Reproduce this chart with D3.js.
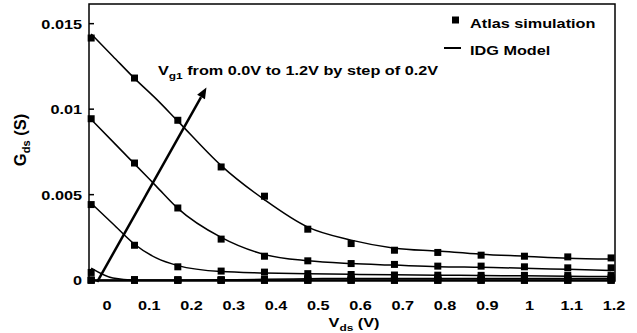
<!DOCTYPE html>
<html><head><meta charset="utf-8">
<script src="https://cdn.jsdelivr.net/npm/d3@7"></script>
<style>
html,body{margin:0;padding:0;background:#fff;}
svg{display:block;font-family:"Liberation Sans",Arial,sans-serif;font-weight:bold;}
</style></head>
<body>
<svg id="chart" width="637" height="333"></svg>
<script>
// ---- data ----
const xTickValues = [0, 0.1, 0.2, 0.3, 0.4, 0.5, 0.6, 0.7, 0.8, 0.9, 1.0, 1.1, 1.2];
const xTickLabels = ["0", "0.1", "0.2", "0.3", "0.4", "0.5", "0.6", "0.7", "0.8", "0.9", "1", "1.1", "1.2"];
const yTickValues = [0, 0.005, 0.01, 0.015];
const yTickLabels = ["0", "0.005", "0.01", "0.015"];

// Atlas simulation points (Vds)
const simX = [0, 0.1, 0.2, 0.3, 0.4, 0.5, 0.6, 0.7, 0.8, 0.9, 1.0, 1.1, 1.2];
const simVg12 = [0.01416, 0.01182, 0.00935, 0.00662, 0.00491, 0.00298, 0.00214, 0.00175, 0.00162, 0.00146, 0.0014, 0.00136, 0.0013];
const simVg10 = [0.00944, 0.00685, 0.00422, 0.0024, 0.0014, 0.00113, 0.00097, 0.00092, 0.00082, 0.00082, 0.00078, 0.00072, 0.00072];
const simVg08 = [0.00442, 0.00204, 0.00078, 0.00053, 0.00047, 0.00038, 0.00033, 0.0003, 0.00029, 0.00028, 0.00028, 0.00027, 0.00027];
const simVg06 = [0.00045, 0.00003, 0.00002, 0.00002, 0.00005, 0.0001, 0.00012, 0.00013, 0.00014, 0.00014, 0.00014, 0.00014, 0.00014];
const simVg04 = [0, 0, 0, 0, 0, 0, 0, 0, 0, 0, 0, 0, 0];
const simVg02 = [0, 0, 0, 0, 0, 0, 0, 0, 0, 0, 0, 0, 0];
const simVg00 = [0, 0, 0, 0, 0, 0, 0, 0, 0, 0, 0, 0, 0];

// IDG model curves
const modelX = [0, 0.05, 0.1, 0.15, 0.2, 0.3, 0.4, 0.5, 0.6, 0.7, 0.8, 0.9, 1.0, 1.1, 1.2];
const modelVg12 = [0.0144, 0.0131, 0.0118, 0.0106, 0.0093, 0.0067, 0.0047, 0.0031, 0.00234, 0.00187, 0.0017, 0.00152, 0.0014, 0.00128, 0.00123];
const modelVg10 = [0.0094, 0.0081, 0.0068, 0.0055, 0.0042, 0.0025, 0.0015, 0.00113, 0.00097, 0.00088, 0.00079, 0.00075, 0.0007, 0.00063, 0.00057];
const modelVg08 = [0.0045, 0.0033, 0.0021, 0.0013, 0.00085, 0.0005, 0.00042, 0.00037, 0.00034, 0.00031, 0.00029, 0.00027, 0.00025, 0.00023, 0.00021];
const modelVg06 = [0.0007, 0.00012, 0, 0, 0, 0.00002, 0.00005, 0.00008, 0.0001, 0.0001, 0.0001, 0.0001, 0.0001, 0.0001, 0.0001];
const modelVg04 = [0, 0, 0, 0, 0, 0, 0, 0, 0, 0, 0, 0, 0, 0, 0];
const modelVg02 = [0, 0, 0, 0, 0, 0, 0, 0, 0, 0, 0, 0, 0, 0, 0];
const modelVg00 = [0, 0, 0, 0, 0, 0, 0, 0, 0, 0, 0, 0, 0, 0, 0];

const simSeries = [simVg00, simVg02, simVg04, simVg06, simVg08, simVg10, simVg12];
const modelSeries = [modelVg00, modelVg02, modelVg04, modelVg06, modelVg08, modelVg10, modelVg12];

// annotation arrow (data coords)
const arrowFrom = [0.014, -0.0001];
const arrowTo = [0.266, 0.01127];

// ---- layout ----
const svg = d3.select("#chart");
const SX = 1.25; // horizontal stretch of the original typography
const FS = 13;

const x = d3.scaleLinear().domain([-0.005, 1.209]).range([89, 615]);
const xLabel = d3.scaleLinear().domain([0, 1.2]).range([107, 614]);
const y = d3.scaleLinear().domain([-0.00005, 0.01615]).range([281, 4]);

function stretchedText(g, tx, ty, anchor, parts) {
  const t = g.append("text")
    .attr("transform", `translate(${tx},${ty}) scale(${SX},1)`)
    .attr("text-anchor", anchor)
    .attr("font-size", FS)
    .attr("fill", "#000");
  parts.forEach(p => {
    const ts = t.append("tspan").text(p.t);
    if (p.sub) ts.attr("font-size", 9.5).attr("dy", 4);
    if (p.back) ts.attr("dy", -4);
  });
  return t;
}

// frame
const [x0, x1] = x.range();
const [yb, yt] = y.range();
svg.append("rect").attr("x", x0).attr("y", yt).attr("width", x1 - x0).attr("height", yb - yt)
  .attr("fill", "none").attr("stroke", "#000").attr("stroke-width", 1.5);

// y ticks (inward) + labels
const gy = svg.append("g");
yTickValues.forEach((v, i) => {
  gy.append("line").attr("x1", x0).attr("x2", x0 + 5).attr("y1", y(v)).attr("y2", y(v))
    .attr("stroke", "#000").attr("stroke-width", 1.5);
  stretchedText(gy, 82, y(v) + 5, "end", [{t: yTickLabels[i]}]);
});

// x tick labels
const gx = svg.append("g");
xTickValues.forEach((v, i) => {
  stretchedText(gx, xLabel(v), 310, "middle", [{t: xTickLabels[i]}]);
});

// axis titles
stretchedText(svg, 354, 327, "middle", [{t: "V"}, {t: "ds", sub: true}, {t: " (V)", back: true}]);
const yt2 = svg.append("text")
  .attr("transform", "translate(26,140) rotate(-90)")
  .attr("text-anchor", "middle").attr("font-size", 16.5).attr("fill", "#000");
yt2.append("tspan").text("G");
yt2.append("tspan").text("ds").attr("font-size", 11).attr("dy", 4);
yt2.append("tspan").text(" (S)").attr("dy", -4);

// model lines
const line = d3.line().x(d => x(d[0])).y(d => y(d[1])).curve(d3.curveMonotoneX);
modelSeries.forEach(s => {
  svg.append("path").attr("d", line(modelX.map((xv, i) => [xv, s[i]])))
    .attr("fill", "none").attr("stroke", "#000").attr("stroke-width", 1.5);
});

// simulation markers
const MS = 7;
simSeries.forEach(s => {
  svg.append("g").selectAll("rect").data(simX.map((xv, i) => [xv, s[i]])).join("rect")
    .attr("x", d => x(d[0]) - MS / 2).attr("y", d => y(d[1]) - MS / 2)
    .attr("width", MS).attr("height", MS).attr("fill", "#000");
});

// arrow annotation
const ax0 = x(arrowFrom[0]), ay0 = y(arrowFrom[1]);
const ax1 = x(arrowTo[0]), ay1 = y(arrowTo[1]);
const ang = Math.atan2(ay1 - ay0, ax1 - ax0);
const headL = 11, headW = 4.5;
const bx = ax1 - headL * Math.cos(ang), by = ay1 - headL * Math.sin(ang);
svg.append("line").attr("x1", ax0).attr("y1", ay0).attr("x2", bx).attr("y2", by)
  .attr("stroke", "#000").attr("stroke-width", 2.5);
svg.append("path")
  .attr("d", `M${ax1},${ay1}L${bx - headW * Math.sin(ang)},${by + headW * Math.cos(ang)}L${bx + headW * Math.sin(ang)},${by - headW * Math.cos(ang)}Z`)
  .attr("fill", "#000");

stretchedText(svg, 158, 75, "start", [{t: "V"}, {t: "g1", sub: true}, {t: " from 0.0V to 1.2V by step of 0.2V", back: true}]);

// legend
svg.append("rect").attr("x", 452).attr("y", 16.5).attr("width", 7).attr("height", 7).attr("fill", "#000");
stretchedText(svg, 470, 28, "start", [{t: "Atlas simulation"}]);
svg.append("line").attr("x1", 444).attr("x2", 461).attr("y1", 48).attr("y2", 48)
  .attr("stroke", "#000").attr("stroke-width", 2);
stretchedText(svg, 470, 55, "start", [{t: "IDG Model"}]);
</script>
</body></html>
